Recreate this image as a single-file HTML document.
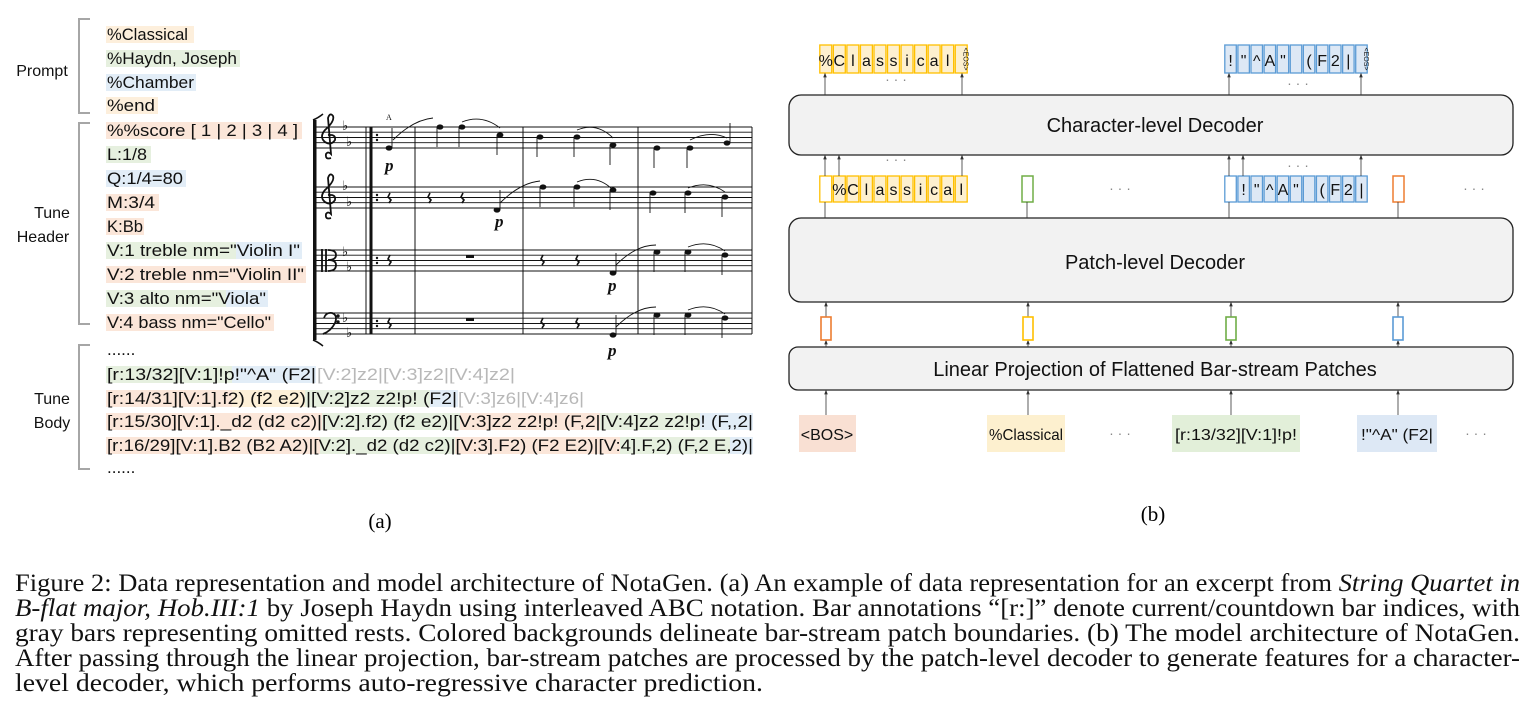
<!DOCTYPE html>
<html><head><meta charset="utf-8"><style>
html,body{margin:0;padding:0;background:#fff;width:1533px;height:725px;overflow:hidden}
svg{display:block}
</style></head><body>
<svg width="1533" height="725" viewBox="0 0 1533 725" xmlns="http://www.w3.org/2000/svg" font-family="Liberation Sans, sans-serif">
<defs>
<marker id="ah" markerWidth="6" markerHeight="6" refX="3" refY="3" orient="auto"><path d="M0,0.8 L6,3 L0,5.2 z" fill="#333"/></marker>
</defs>

<g>
<g fill="none" stroke="#a6a6a6" stroke-width="2">
<path d="M90,19 H79 V113 H90"/>
<path d="M90,123 H79 V324 H90"/>
<path d="M90,345 H79 V469 H90"/>
</g>
<g font-size="16" fill="#111" text-anchor="middle">
<text x="42" y="76">Prompt</text>
<text x="52" y="218">Tune</text>
<text x="43" y="242">Header</text>
<text x="52" y="404">Tune</text>
<text x="52" y="428">Body</text>
</g>
<g>
<rect x="106" y="26" width="88" height="17" fill="#fdefdc"/>
<rect x="106" y="50" width="134" height="17" fill="#e6f0df"/>
<rect x="106" y="74" width="90" height="17" fill="#e2edf7"/>
<rect x="106" y="97" width="52" height="17" fill="#fdefdc"/>
<rect x="106" y="122" width="196" height="17" fill="#fbe6d9"/>
<rect x="106" y="146" width="45" height="17" fill="#e6f0df"/>
<rect x="106" y="170" width="80" height="17" fill="#e2edf7"/>
<rect x="106" y="194" width="53" height="17" fill="#fbe6d9"/>
<rect x="106" y="218" width="38" height="17" fill="#fbe6d9"/>
<rect x="106" y="242" width="130" height="17" fill="#e6f0df"/><rect x="236" y="242" width="66" height="17" fill="#e2edf7"/>
<rect x="106" y="266" width="200" height="17" fill="#fbe6d9"/>
<rect x="106" y="290" width="120" height="17" fill="#e6f0df"/><rect x="226" y="290" width="42" height="17" fill="#e2edf7"/>
<rect x="106" y="314" width="168" height="17" fill="#fbe6d9"/>
</g>
<g font-size="17" fill="#111">
<text x="107" y="40" textLength="81" lengthAdjust="spacingAndGlyphs">%Classical</text>
<text x="107" y="64" textLength="130" lengthAdjust="spacingAndGlyphs">%Haydn, Joseph</text>
<text x="107" y="88" textLength="87" lengthAdjust="spacingAndGlyphs">%Chamber</text>
<text x="107" y="111" textLength="48" lengthAdjust="spacingAndGlyphs">%end</text>
<text x="107" y="136" textLength="191" lengthAdjust="spacingAndGlyphs">%%score [ 1 | 2 | 3 | 4 ]</text>
<text x="107" y="160" textLength="40" lengthAdjust="spacingAndGlyphs">L:1/8</text>
<text x="107" y="184" textLength="76" lengthAdjust="spacingAndGlyphs">Q:1/4=80</text>
<text x="107" y="208" textLength="48" lengthAdjust="spacingAndGlyphs">M:3/4</text>
<text x="107" y="232" textLength="36" lengthAdjust="spacingAndGlyphs">K:Bb</text>
<text x="107" y="256" textLength="193" lengthAdjust="spacingAndGlyphs">V:1 treble nm="Violin I"</text>
<text x="107" y="280" textLength="197" lengthAdjust="spacingAndGlyphs">V:2 treble nm="Violin II"</text>
<text x="107" y="304" textLength="159" lengthAdjust="spacingAndGlyphs">V:3 alto nm="Viola"</text>
<text x="107" y="328" textLength="164" lengthAdjust="spacingAndGlyphs">V:4 bass nm="Cello"</text>
</g>
<g>
<rect x="106" y="366" width="126" height="17" fill="#e6f0df"/><rect x="232" y="366" width="84" height="17" fill="#e2edf7"/>
<rect x="106" y="390" width="126" height="17" fill="#fbe6d9"/><rect x="232" y="390" width="73" height="17" fill="#fdf0d8"/><rect x="305" y="390" width="125" height="17" fill="#e6f0df"/><rect x="430" y="390" width="28" height="17" fill="#e2edf7"/>
<rect x="106" y="413" width="216" height="17" fill="#fbe6d9"/><rect x="322" y="413" width="138" height="17" fill="#e6f0df"/><rect x="460" y="413" width="140" height="17" fill="#fbe6d9"/><rect x="600" y="413" width="100" height="17" fill="#e6f0df"/><rect x="700" y="413" width="53" height="17" fill="#e2edf7"/>
<rect x="106" y="437" width="214" height="17" fill="#fbe6d9"/><rect x="320" y="437" width="135" height="17" fill="#e6f0df"/><rect x="455" y="437" width="165" height="17" fill="#fbe6d9"/><rect x="620" y="437" width="110" height="17" fill="#e6f0df"/><rect x="730" y="437" width="23" height="17" fill="#e2edf7"/>
</g>
<g font-size="17" fill="#111">
<text x="107" y="355">......</text>
<text x="107" y="380" textLength="209" lengthAdjust="spacingAndGlyphs">[r:13/32][V:1]!p!"^A" (F2|</text>
<text x="317" y="380" textLength="198" lengthAdjust="spacingAndGlyphs" fill="#b8b8b8">[V:2]z2|[V:3]z2|[V:4]z2|</text>
<text x="107" y="404" textLength="350" lengthAdjust="spacingAndGlyphs">[r:14/31][V:1].f2) (f2 e2)|[V:2]z2 z2!p! (F2|</text>
<text x="458" y="404" textLength="126" lengthAdjust="spacingAndGlyphs" fill="#b8b8b8">[V:3]z6|[V:4]z6|</text>
<text x="107" y="427" textLength="646" lengthAdjust="spacingAndGlyphs">[r:15/30][V:1]._d2 (d2 c2)|[V:2].f2) (f2 e2)|[V:3]z2 z2!p! (F,2|[V:4]z2 z2!p! (F,,2|</text>
<text x="107" y="451" textLength="646" lengthAdjust="spacingAndGlyphs">[r:16/29][V:1].B2 (B2 A2)|[V:2]._d2 (d2 c2)|[V:3].F2) (F2 E2)|[V:4].F,2) (F,2 E,2)|</text>
<text x="107" y="473">......</text>
</g>

<g stroke="#111" fill="#111">
<g stroke-width="0.9">
<path d="M316,127H752M316,132.2H752M316,137.5H752M316,142.7H752M316,148H752"/>
<path d="M316,187H752M316,192.2H752M316,197.5H752M316,202.7H752M316,208H752"/>
<path d="M316,250H752M316,255.2H752M316,260.5H752M316,265.7H752M316,271H752"/>
<path d="M316,313H752M316,318.2H752M316,323.5H752M316,328.7H752M316,334H752"/>
</g>
<rect x="313" y="120" width="3.5" height="220" stroke="none"/>
<path d="M313,120 q5,-2 10,-6" fill="none" stroke-width="1.5"/><path d="M313,340 q5,2 10,6" fill="none" stroke-width="1.5"/>
<g stroke-width="1"><path d="M366,127V334M415,127V334M523,127V334M638,127V334M752,127V334"/></g>
<rect x="369.5" y="127" width="3" height="207" stroke="none"/>
<g stroke="none">
<circle cx="377" cy="135" r="1.2"/><circle cx="377" cy="140" r="1.2"/>
<circle cx="377" cy="195" r="1.2"/><circle cx="377" cy="200" r="1.2"/>
<circle cx="377" cy="258" r="1.2"/><circle cx="377" cy="263" r="1.2"/>
<circle cx="377" cy="321" r="1.2"/><circle cx="377" cy="326" r="1.2"/>
</g>
<g fill="none" stroke-width="1.8">
<path d="M331,158 q-6,2 -5,-4 q2,-3 5,0 L328,118 q2,-6 5,-2 q2,5 -8,14 q-6,7 0,12 q6,4 10,-2 q1,-6 -7,-5"/>
<path d="M331,218 q-6,2 -5,-4 q2,-3 5,0 L328,178 q2,-6 5,-2 q2,5 -8,14 q-6,7 0,12 q6,4 10,-2 q1,-6 -7,-5"/>
<path d="M322,249V272M326,249V272M328,250 q8,0 8,5 q0,5 -8,5 q8,0 8,5 q0,6 -8,6"/>
<path d="M324,318 q2,-6 8,-5 q6,2 3,10 q-4,8 -12,11"/><circle cx="338" cy="316" r="0.8"/><circle cx="338" cy="322" r="0.8"/>
</g>
<g font-size="13" stroke="none" font-family="DejaVu Sans, sans-serif">
<text x="342" y="130">♭</text><text x="346" y="146">♭</text>
<text x="342" y="190">♭</text><text x="346" y="206">♭</text>
<text x="342" y="256">♭</text><text x="346" y="271">♭</text>
<text x="342" y="322">♭</text><text x="346" y="337">♭</text>
</g>
<g stroke="none">
<ellipse cx="389" cy="148" rx="3.4" ry="2.6"/><ellipse cx="440" cy="127" rx="3.4" ry="2.6"/><ellipse cx="462" cy="127" rx="3.4" ry="2.6"/><ellipse cx="500" cy="135" rx="3.4" ry="2.6"/>
<ellipse cx="540" cy="137" rx="3.4" ry="2.6"/><ellipse cx="577" cy="137" rx="3.4" ry="2.6"/><ellipse cx="613" cy="145" rx="3.4" ry="2.6"/>
<ellipse cx="657" cy="148" rx="3.4" ry="2.6"/><ellipse cx="690" cy="148" rx="3.4" ry="2.6"/><ellipse cx="727" cy="143" rx="3.4" ry="2.6"/>
<ellipse cx="497" cy="210" rx="3.4" ry="2.6"/><ellipse cx="543" cy="187" rx="3.4" ry="2.6"/><ellipse cx="577" cy="187" rx="3.4" ry="2.6"/><ellipse cx="613" cy="190" rx="3.4" ry="2.6"/>
<ellipse cx="653" cy="193" rx="3.4" ry="2.6"/><ellipse cx="688" cy="193" rx="3.4" ry="2.6"/><ellipse cx="725" cy="197" rx="3.4" ry="2.6"/>
<ellipse cx="613" cy="273" rx="3.4" ry="2.6"/><ellipse cx="657" cy="252" rx="3.4" ry="2.6"/><ellipse cx="688" cy="252" rx="3.4" ry="2.6"/><ellipse cx="725" cy="255" rx="3.4" ry="2.6"/>
<ellipse cx="613" cy="335" rx="3.4" ry="2.6"/><ellipse cx="657" cy="315" rx="3.4" ry="2.6"/><ellipse cx="688" cy="315" rx="3.4" ry="2.6"/><ellipse cx="725" cy="318" rx="3.4" ry="2.6"/>
<rect x="466" y="255" width="8" height="3"/><rect x="466" y="318" width="8" height="3"/>
</g>
<g stroke-width="0.9">
<path d="M392,148V128M437,127V147M459,127V147M497,135V155M537,137V157M574,137V157M610,145V165M654,148V168M687,148V168M730,143V123"/>
<path d="M500,210V190M540,187V207M574,187V207M610,190V210M650,193V213M685,193V213M722,197V217"/>
<path d="M616,273V253M654,252V272M685,252V272M722,255V275"/>
<path d="M616,335V315M654,315V335M685,315V335M722,318V338"/>
</g>
<g fill="none" stroke-width="0.9">
<path d="M393,140 q20,-20 40,-22"/><path d="M462,122 q20,-8 38,6"/><path d="M577,130 q20,-8 36,8"/><path d="M690,140 q20,-10 37,-2"/>
<path d="M500,203 q20,-20 40,-22"/><path d="M577,182 q20,-8 36,8"/><path d="M688,188 q20,-8 37,4"/>
<path d="M616,265 q20,-20 40,-20"/><path d="M688,247 q20,-8 37,4"/>
<path d="M616,327 q20,-20 40,-20"/><path d="M688,310 q20,-8 37,4"/>
</g>
<g stroke-width="1.6" fill="none">
<path d="M390,193 l-2,4 l3,3 l-2,3"/><path d="M430,193 l-2,4 l3,3 l-2,3"/><path d="M463,193 l-2,4 l3,3 l-2,3"/>
<path d="M390,255 l-2,4 l3,3 l-2,3"/><path d="M543,255 l-2,4 l3,3 l-2,3"/><path d="M578,255 l-2,4 l3,3 l-2,3"/>
<path d="M390,318 l-2,4 l3,3 l-2,3"/><path d="M543,318 l-2,4 l3,3 l-2,3"/><path d="M578,318 l-2,4 l3,3 l-2,3"/>
</g>
<g font-family="Liberation Serif, serif" font-style="italic" font-weight="bold" font-size="17" stroke="none">
<text x="385" y="171">p</text><text x="495" y="227">p</text><text x="608" y="291">p</text><text x="608" y="356">p</text>
</g>
<text x="386" y="120" font-size="8" stroke="none" font-family="Liberation Serif, serif">A</text>
</g>
<text x="380" y="528" font-size="21" font-family="Liberation Serif, serif" text-anchor="middle">(a)</text>
</g>

<g>
<g fill="#f2f2f2" stroke="#222" stroke-width="1.3">
<rect x="789" y="95" width="724" height="60" rx="12"/>
<rect x="789" y="218" width="724" height="84" rx="12"/>
<rect x="789" y="347" width="724" height="43" rx="9"/>
</g>
<g font-size="20" fill="#111" text-anchor="middle">
<text x="1155" y="132">Character-level Decoder</text>
<text x="1155" y="269">Patch-level  Decoder</text>
<text x="1155" y="376">Linear Projection of Flattened Bar-stream Patches</text>
</g>

<g id="tokens"></g>

<g stroke="#333" stroke-width="0.8" marker-end="url(#ah)">
<path d="M825,95V75"/><path d="M962,95V75"/><path d="M1229,95V75"/><path d="M1361,95V75"/>
<path d="M825,176V157"/><path d="M839,176V157"/><path d="M962,176V157"/><path d="M1229,176V157"/><path d="M1243,176V157"/><path d="M1361,176V157"/>
<path d="M826,317V304"/><path d="M1028,317V304"/><path d="M1231,317V304"/><path d="M1398,317V304"/>
<path d="M826,347V342"/><path d="M1028,347V342"/><path d="M1231,347V342"/><path d="M1398,347V342"/>
<path d="M826,415V392"/><path d="M1028,415V392"/><path d="M1231,415V392"/><path d="M1398,415V392"/>
</g>
<g stroke="#333" stroke-width="0.8">
<path d="M825,202V218M1027,202V218M1229,202V218M1398,202V218"/>
</g>

<g fill="#888" font-size="14" text-anchor="middle">
<text x="896" y="84">· · ·</text><text x="1298" y="88">· · ·</text>
<text x="896" y="164">· · ·</text><text x="1298" y="170">· · ·</text>
<text x="1120" y="193">· · ·</text><text x="1474" y="193">· · ·</text>
<text x="1120" y="438">· · ·</text><text x="1476" y="438">· · ·</text>
</g>

<g font-size="16" fill="#111" text-anchor="middle">
<rect x="799" y="415" width="57" height="37" fill="#f9e0d3"/>
<text x="827" y="440">&lt;BOS&gt;</text>
<rect x="987" y="415" width="78" height="37" fill="#fdf0cf"/>
<text x="1026" y="440" textLength="74" lengthAdjust="spacingAndGlyphs">%Classical</text>
<rect x="1172" y="415" width="128" height="37" fill="#e2efd9"/>
<text x="1236" y="440" textLength="122" lengthAdjust="spacingAndGlyphs">[r:13/32][V:1]!p!</text>
<rect x="1357" y="415" width="80" height="37" fill="#dde8f5"/>
<text x="1397" y="440" textLength="72" lengthAdjust="spacingAndGlyphs">!"^A" (F2|</text>
</g>
<g fill="#fff" stroke-width="1.6">
<rect x="821" y="317" width="10" height="23" stroke="#ed7d31"/>
<rect x="1023" y="317" width="10" height="23" stroke="#ffc000"/>
<rect x="1226" y="317" width="10" height="23" stroke="#70ad47"/>
<rect x="1393" y="317" width="10" height="23" stroke="#5b9bd5"/>
</g>
<text x="1153" y="521" font-size="21" font-family="Liberation Serif, serif" text-anchor="middle">(b)</text>
</g>

<g font-family="Liberation Serif, serif" font-size="25" fill="#111">
<text x="15" y="591" textLength="1505" lengthAdjust="spacingAndGlyphs">Figure 2: Data representation and model architecture of NotaGen. (a) An example of data representation for an excerpt from <tspan font-style="italic">String Quartet in</tspan></text>
<text x="15" y="616" textLength="1505" lengthAdjust="spacingAndGlyphs"><tspan font-style="italic">B-flat major, Hob.III:1</tspan> by Joseph Haydn using interleaved ABC notation. Bar annotations “[r:]” denote current/countdown bar indices, with</text>
<text x="15" y="641" textLength="1505" lengthAdjust="spacingAndGlyphs">gray bars representing omitted rests.  Colored backgrounds delineate bar-stream patch boundaries. (b) The model architecture of NotaGen.</text>
<text x="15" y="666" textLength="1505" lengthAdjust="spacingAndGlyphs">After passing through the linear projection, bar-stream patches are processed by the patch-level decoder to generate features for a character-</text>
<text x="15" y="691" textLength="748" lengthAdjust="spacingAndGlyphs">level decoder, which performs auto-regressive character prediction.</text>
</g>
</svg>
<script>
const NS='http://www.w3.org/2000/svg';
const g=document.getElementById('tokens');
const Y={stroke:'#ffc000',fill:'#fdf0cf'},B={stroke:'#5b9bd5',fill:'#dde8f5'};
const topLeft=['%','C','l','a','s','s','i','c','a','l','EOS'];
const topRight=['!','"','^','A','"','','(','F','2','|','EOS'];
const midLeft=['','%','C','l','a','s','s','i','c','a','l'];
const midRight=['','!','"','^','A','"','','(','F','2','|'];
function row(chars,x0,x1,y,h,c,name){
  const w=(x1-x0)/chars.length;
  chars.forEach((ch,i)=>{
    const r=document.createElementNS(NS,'rect');
    r.setAttribute('x',x0+i*w+0.8);r.setAttribute('y',y);r.setAttribute('width',w-1.6);r.setAttribute('height',h);
    r.setAttribute('fill',ch===''&&i===0?'#fff':c.fill);r.setAttribute('stroke',c.stroke);r.setAttribute('stroke-width','1.3');
    
    
    g.appendChild(r);
    if(ch){
      const t=document.createElementNS(NS,'text');
      const cx=x0+i*w+w/2;
      t.setAttribute('text-anchor','middle');t.setAttribute('fill','#111');
      if(ch==='EOS'){t.setAttribute('font-size','7');t.setAttribute('transform','translate('+(cx+2.5)+','+(y+h/2)+') rotate(90)');t.setAttribute('x',0);t.setAttribute('y',0);t.textContent='<EOS>';}
      else{t.setAttribute('font-size','16');t.setAttribute('x',cx);t.setAttribute('y',y+h-7);t.textContent=ch;}
      
      
      g.appendChild(t);
    }
  });
}
row(topLeft,819,968,45,28,Y,'output-token');
row(topRight,1224,1368,45,28,B,'output-token');
row(midLeft,819,968,176,26,Y,'input-token');
row(midRight,1224,1368,176,26,B,'input-token');
[[1022,'#70ad47'],[1393,'#ed7d31']].forEach(([x,c])=>{
  const r=document.createElementNS(NS,'rect');
  r.setAttribute('x',x);r.setAttribute('y',176);r.setAttribute('width',11);r.setAttribute('height',26);
  r.setAttribute('fill','#fff');r.setAttribute('stroke',c);r.setAttribute('stroke-width','1.5');
  
  
  g.appendChild(r);
});
</script>
</body></html>
